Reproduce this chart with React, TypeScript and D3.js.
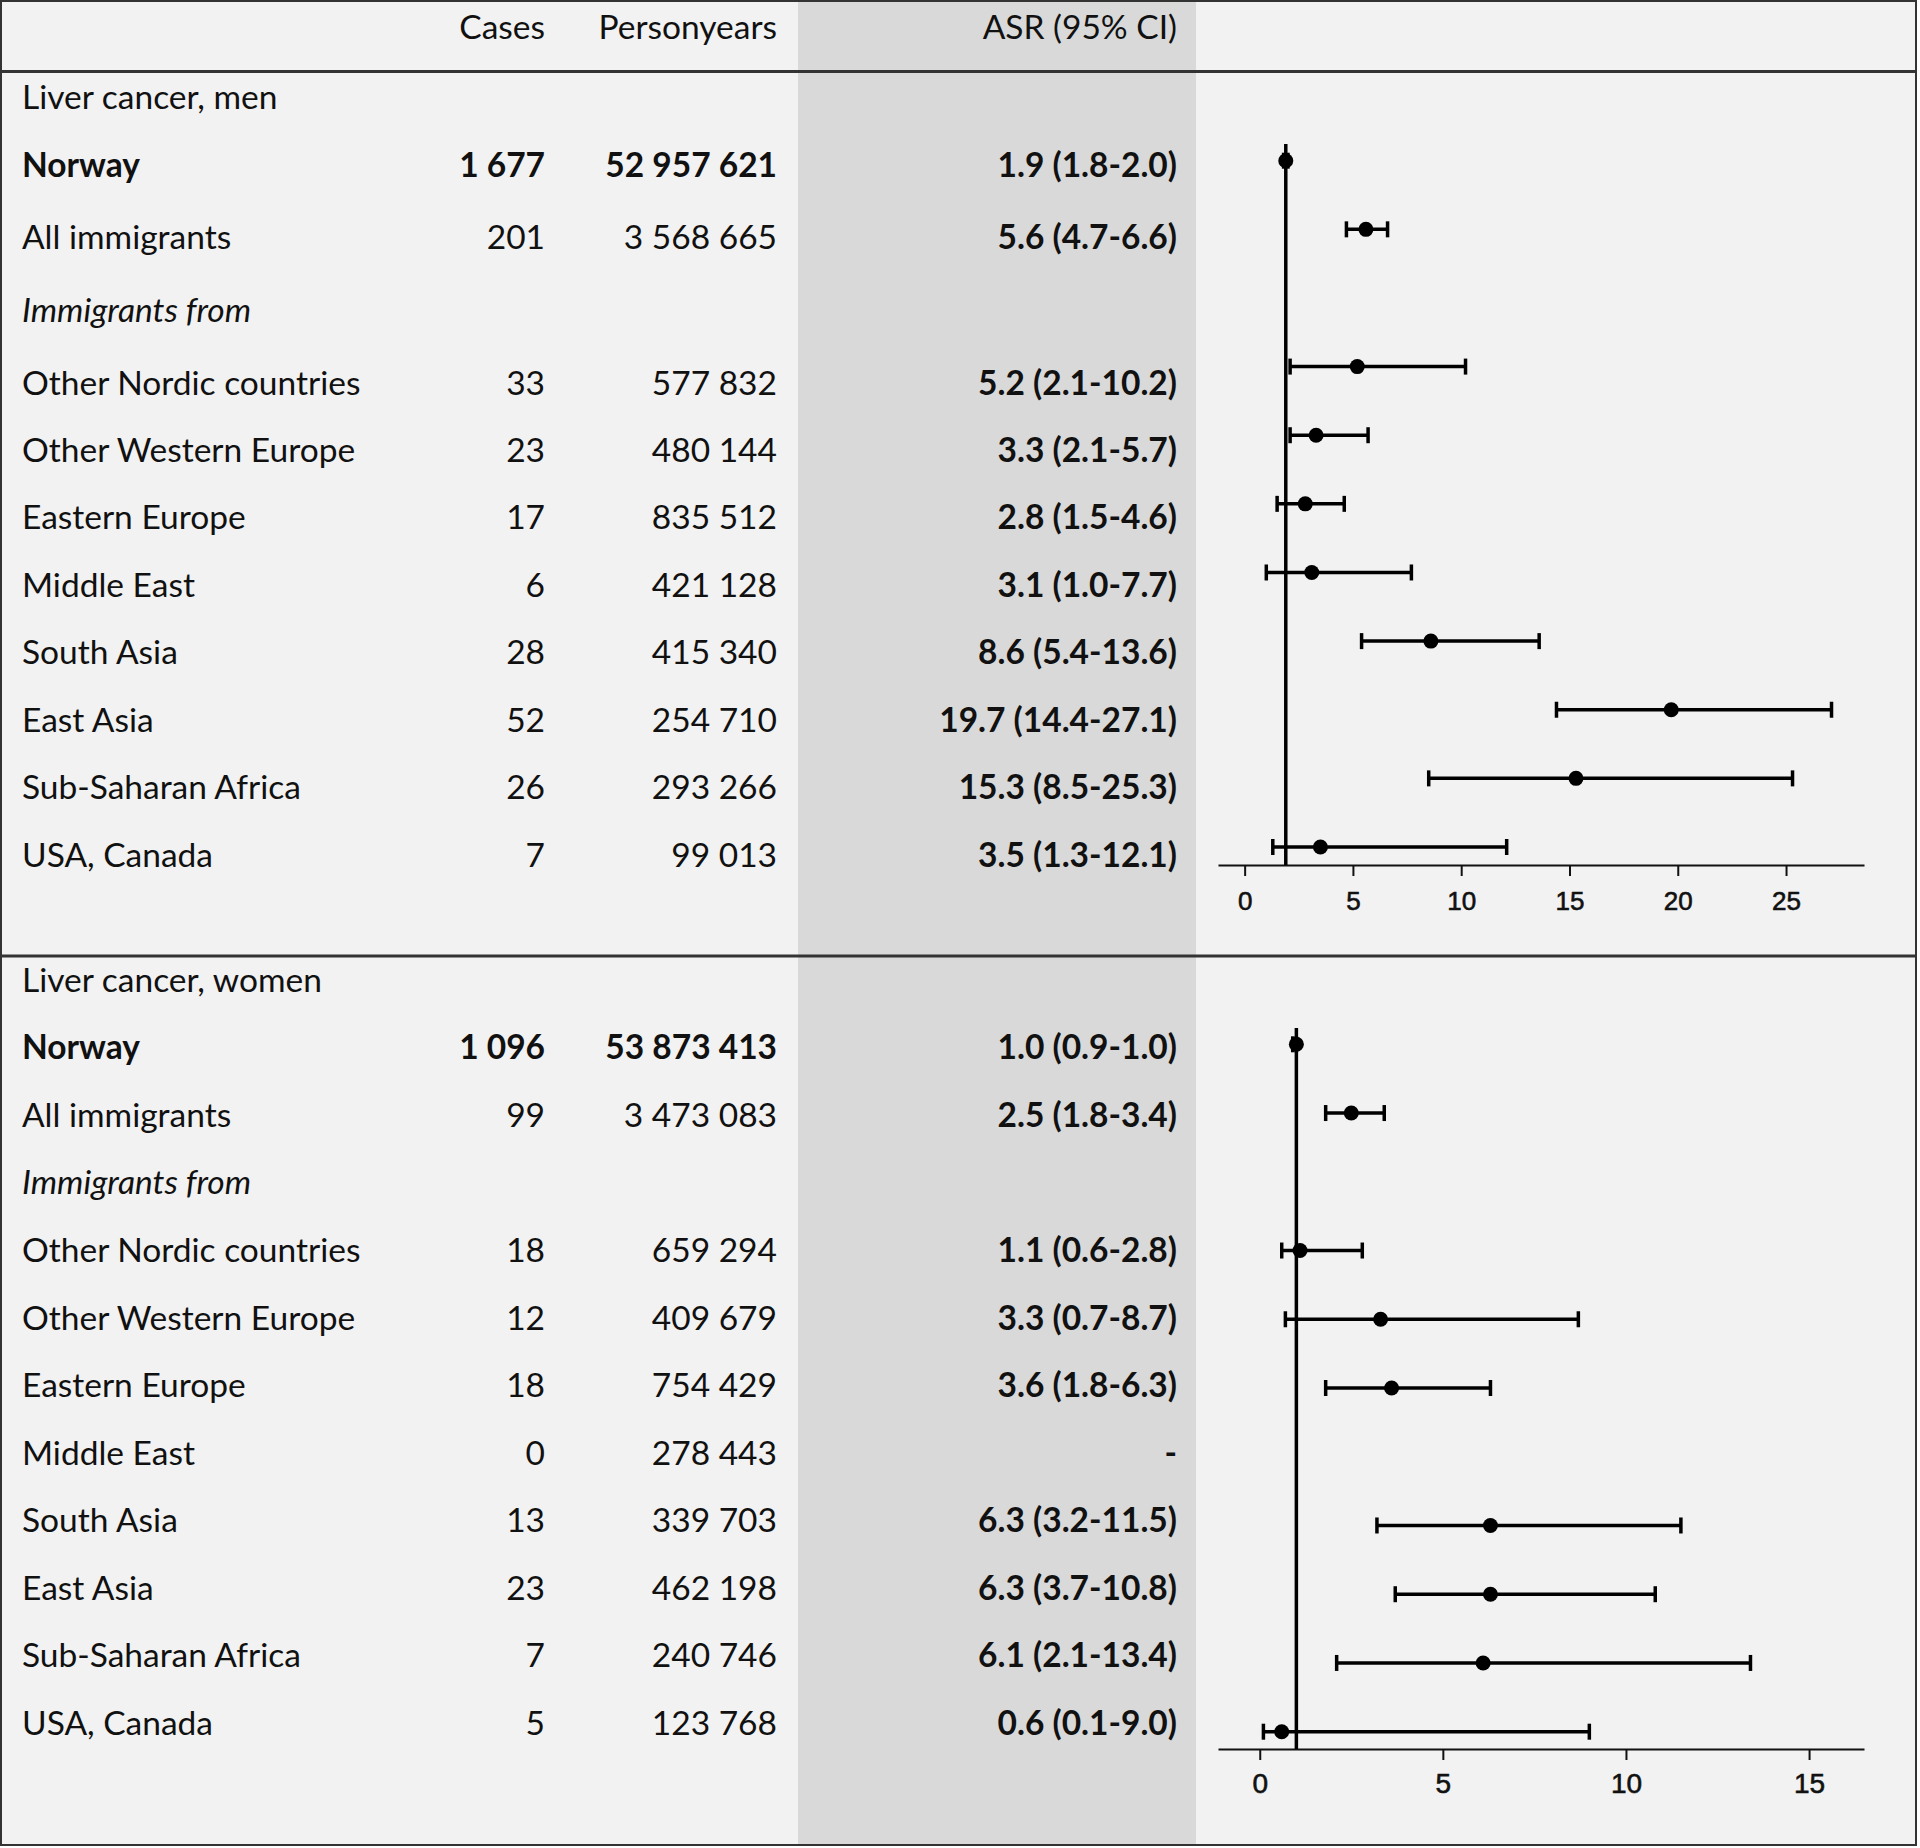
import React, { useRef, useEffect } from 'react';
import * as d3 from 'd3';

// rows of both panels (row 0 of each panel is its title)
const regions = [
  'Norway',
  'All immigrants',
  'Immigrants from',
  'Other Nordic countries',
  'Other Western Europe',
  'Eastern Europe',
  'Middle East',
  'South Asia',
  'East Asia',
  'Sub-Saharan Africa',
  'USA, Canada',
];

const headers = ['Cases', 'Personyears', 'ASR (95% CI)'];

// men
const menCases = [1677, 201, null, 33, 23, 17, 6, 28, 52, 26, 7];
const menPersonyears = [52957621, 3568665, null, 577832, 480144, 835512, 421128, 415340, 254710, 293266, 99013];
const menAsr = [1.9, 5.6, null, 5.2, 3.3, 2.8, 3.1, 8.6, 19.7, 15.3, 3.5];
const menLow = [1.8, 4.7, null, 2.1, 2.1, 1.5, 1.0, 5.4, 14.4, 8.5, 1.3];
const menHigh = [2.0, 6.6, null, 10.2, 5.7, 4.6, 7.7, 13.6, 27.1, 25.3, 12.1];
const menTicks = [0, 5, 10, 15, 20, 25];

// women
const womenCases = [1096, 99, null, 18, 12, 18, 0, 13, 23, 7, 5];
const womenPersonyears = [53873413, 3473083, null, 659294, 409679, 754429, 278443, 339703, 462198, 240746, 123768];
const womenAsr = [1.0, 2.5, null, 1.1, 3.3, 3.6, null, 6.3, 6.3, 6.1, 0.6];
const womenLow = [0.9, 1.8, null, 0.6, 0.7, 1.8, null, 3.2, 3.7, 2.1, 0.1];
const womenHigh = [1.0, 3.4, null, 2.8, 8.7, 6.3, null, 11.5, 10.8, 13.4, 9.0];
const womenTicks = [0, 5, 10, 15];

const W = 1920;
const H = 1848;
const FONT = 'Lato, "Open Sans", sans-serif';
const FS = 33.5;
const BG = '#f2f2f2';
const SHADE = '#d9d9d9';

const fmtInt = (n) => d3.format(',')(n).replace(/,/g, ' ');
const fmtAsr = (a, lo, hi) => (a == null ? '-' : `${a.toFixed(1)} (${lo.toFixed(1)}-${hi.toFixed(1)})`);

const panels = [
  {
    title: 'Liver cancer, men',
    cases: menCases, py: menPersonyears, asr: menAsr, lo: menLow, hi: menHigh, ticks: menTicks,
    // the men rows are a bit taller at the top of the table
    textDomain: [0, 1, 4, 11],
    textRange: [108.5, 176.7, 394.5, 866.5],
    dotRange: [160.7, 847],
    axisY: 865,
    domain: [-1.23, 28.6],
    refTop: 144,
    tickFont: 26,
    tickPad: 16,
  },
  {
    title: 'Liver cancer, women',
    cases: womenCases, py: womenPersonyears, asr: womenAsr, lo: womenLow, hi: womenHigh, ticks: womenTicks,
    textDomain: [0, 11],
    textRange: [991.7, 1735],
    dotRange: [1044.3, 1731.7],
    axisY: 1749,
    domain: [-1.14, 16.5],
    refTop: 1028,
    tickFont: 28,
    tickPad: 13,
  },
];

const ForestTable = () => {
  const svgRef = useRef(null);

  useEffect(() => {
    const svg = d3.select(svgRef.current);
    svg.selectAll('*').remove();

    // frame and shaded ASR column
    svg.append('rect').attr('x', 0).attr('y', 0).attr('width', W).attr('height', H).attr('fill', '#fff');
    svg.append('rect')
      .attr('x', 1).attr('y', 1).attr('width', 1915).attr('height', 1844)
      .attr('fill', BG).attr('stroke', '#333').attr('stroke-width', 2);
    svg.append('rect')
      .attr('x', 798).attr('y', 2).attr('width', 398).attr('height', 1842)
      .attr('fill', SHADE);
    [71.5, 956].forEach(y => {
      svg.append('line')
        .attr('x1', 1).attr('x2', 1916).attr('y1', y).attr('y2', y)
        .attr('stroke', '#333').attr('stroke-width', 3);
    });

    const colX = { name: 22, cases: 545, py: 777, asr: 1177 };

    // header
    const head = svg.append('g').attr('font-family', FONT).attr('font-size', FS).attr('fill', '#111');
    [colX.cases, colX.py, colX.asr].forEach((x, i) => {
      head.append('text').attr('x', x).attr('y', 38.5).attr('text-anchor', 'end').text(headers[i]);
    });

    panels.forEach(p => {
      const yText = d3.scaleLinear().domain(p.textDomain).range(p.textRange);
      const yDot = d3.scalePoint().domain(d3.range(1, regions.length + 1)).range(p.dotRange);
      const x = d3.scaleLinear().domain(p.domain).range([1218, 1864]);

      const g = svg.append('g').attr('font-family', FONT).attr('font-size', FS).attr('fill', '#111');

      g.append('text').attr('x', colX.name).attr('y', yText(0)).text(p.title);

      regions.forEach((name, i) => {
        const y = yText(i + 1);
        const bold = i === 0;
        const italic = name === 'Immigrants from';
        g.append('text')
          .attr('x', colX.name).attr('y', y)
          .attr('font-weight', bold ? 700 : 400)
          .attr('font-style', italic ? 'italic' : 'normal')
          .text(name);
        if (italic) return;
        g.append('text')
          .attr('x', colX.cases).attr('y', y).attr('text-anchor', 'end')
          .attr('font-weight', bold ? 700 : 400)
          .text(fmtInt(p.cases[i]));
        g.append('text')
          .attr('x', colX.py).attr('y', y).attr('text-anchor', 'end')
          .attr('font-weight', bold ? 700 : 400)
          .text(fmtInt(p.py[i]));
        g.append('text')
          .attr('x', colX.asr).attr('y', y).attr('text-anchor', 'end')
          .attr('font-weight', 700)
          .text(fmtAsr(p.asr[i], p.lo[i], p.hi[i]));
      });

      // axis
      const axis = d3.axisBottom(x).tickValues(p.ticks).tickSize(11).tickSizeOuter(0).tickPadding(p.tickPad);
      const ax = svg.append('g').attr('transform', `translate(0,${p.axisY})`).call(axis);
      ax.select('.domain').attr('stroke', '#111').attr('stroke-width', 2);
      ax.selectAll('.tick line').attr('stroke', '#111').attr('stroke-width', 2);
      ax.selectAll('.tick text')
        .attr('font-family', '"Liberation Sans", Arial, sans-serif')
        .attr('font-size', p.tickFont)
        .attr('fill', '#111')
        .attr('stroke', '#111')
        .attr('stroke-width', 0.6);

      // reference line at the Norwegian rate
      svg.append('line')
        .attr('x1', x(p.asr[0])).attr('x2', x(p.asr[0]))
        .attr('y1', p.refTop).attr('y2', p.axisY)
        .attr('stroke', '#000').attr('stroke-width', 3.5);

      // CIs and point estimates
      const pts = d3.range(regions.length).filter(i => p.asr[i] != null);
      const marks = svg.append('g').attr('stroke', '#000').attr('stroke-width', 3.5);
      pts.forEach(i => {
        const y = yDot(i + 1);
        marks.append('line').attr('x1', x(p.lo[i])).attr('x2', x(p.hi[i])).attr('y1', y).attr('y2', y);
        [p.lo[i], p.hi[i]].forEach(v => {
          marks.append('line').attr('x1', x(v)).attr('x2', x(v)).attr('y1', y - 8).attr('y2', y + 8);
        });
        marks.append('circle').attr('cx', x(p.asr[i])).attr('cy', y).attr('r', 7.5)
          .attr('fill', '#000').attr('stroke', 'none');
      });
    });
  }, []);

  return (
    <svg
      ref={svgRef}
      width={W}
      height={H}
      style={{ position: 'absolute', left: 0, top: 0, display: 'block' }}
    />
  );
};

export default function App() {
  return <ForestTable />;
}
